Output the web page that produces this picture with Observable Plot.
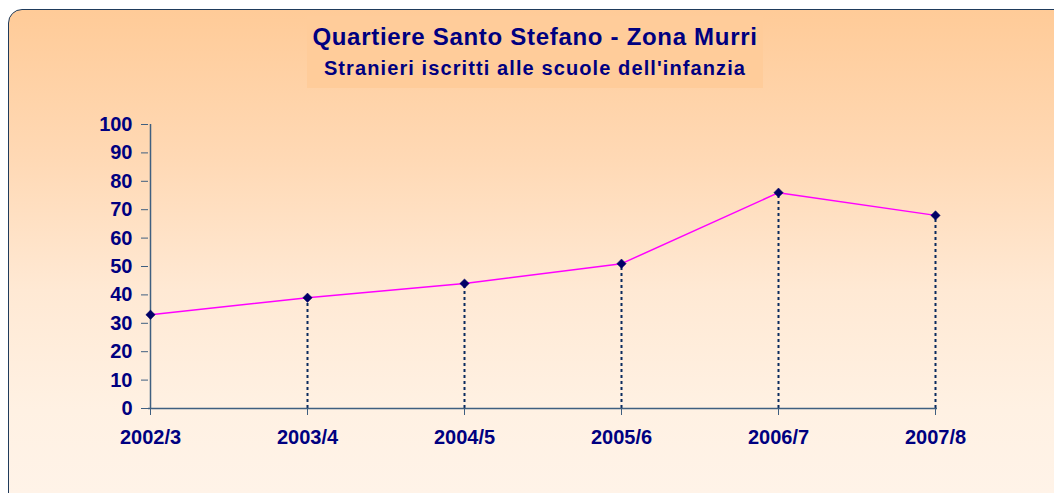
<!DOCTYPE html>
<html>
<head>
<meta charset="utf-8">
<script src="https://cdn.jsdelivr.net/npm/d3@7"></script>
<script src="https://cdn.jsdelivr.net/npm/@observablehq/plot@0.6"></script>
<style>
  html, body { margin: 0; padding: 0; width: 1054px; height: 493px; overflow: hidden; background: #fff; }
  #frame {
    position: absolute; left: 8px; top: 9px; width: 1100px; height: 600px;
    border: 1px solid #1f3b5c; border-radius: 14px; box-sizing: border-box;
    background: linear-gradient(to bottom, #FFCB98 0px, #FFD9B5 150px, #FFE9D4 280px, #FFF1E3 400px, #FFF3E8 484px);
  }
  #titlebox {
    position: absolute; left: 307px; top: 16px; width: 456px; height: 72px;
    background: #FFCC9A;
  }
  .ttl { position: absolute; left: 0; width: 1070px; text-align: center;
    font-family: Arial, "Liberation Sans", sans-serif; font-weight: bold; color: #000080; line-height: 1; white-space: nowrap; }
  #t1 { top: 25px; font-size: 24px; letter-spacing: 0.7px; }
  #t2 { top: 58px; font-size: 20px; letter-spacing: 1.1px; }
  #chart { position: absolute; left: 0; top: 0; }
  #chart svg text { font-family: Arial, "Liberation Sans", sans-serif; font-weight: bold; font-size: 20px; fill: #000080; }
</style>
</head>
<body>
<div id="frame"></div>
<div id="titlebox"></div>
<div class="ttl" id="t1">Quartiere Santo Stefano - Zona Murri</div>
<div class="ttl" id="t2">Stranieri iscritti alle scuole dell'infanzia</div>
<div id="chart"></div>
<script>
const years = ["2002/3", "2003/4", "2004/5", "2005/6", "2006/7", "2007/8"];
const students = [33, 39, 44, 51, 76, 68];
const yTicks = [0, 10, 20, 30, 40, 50, 60, 70, 80, 90, 100];

const data = years.map((y, i) => ({year: y, value: students[i]}));
const axisColor = "#3f5f80";

const chart = Plot.plot({
  width: 1054,
  height: 493,
  marginLeft: 148,
  marginRight: 117,
  marginTop: 124,
  marginBottom: 85,
  style: {background: "transparent", overflow: "visible"},
  x: {type: "point", domain: years, padding: 0, label: null},
  y: {domain: [0, 100], label: null},
  marks: [
    Plot.ruleX(data.slice(1), {x: "year", y1: 0, y2: "value", stroke: "#0a2a5e", strokeWidth: 2, strokeDasharray: "3,3"}),
    Plot.ruleY([0], {stroke: axisColor, strokeWidth: 1.5}),
    Plot.ruleX([years[0]], {y1: 0, y2: 100, stroke: axisColor, strokeWidth: 1.5}),
    Plot.axisY({ticks: yTicks, tickSize: 7, tickPadding: 9, stroke: axisColor, label: null, tickFormat: d => String(d)}),
    Plot.axisX({tickSize: 7, tickPadding: 14, stroke: axisColor, label: null}),
    Plot.line(data, {x: "year", y: "value", stroke: "#FF00FF", strokeWidth: 1.5}),
    Plot.dot(data, {x: "year", y: "value", symbol: "diamond2", r: 4.2, fill: "#000066", stroke: "#000066", strokeWidth: 0.5})
  ]
});
document.getElementById("chart").appendChild(chart);
</script>
</body>
</html>
